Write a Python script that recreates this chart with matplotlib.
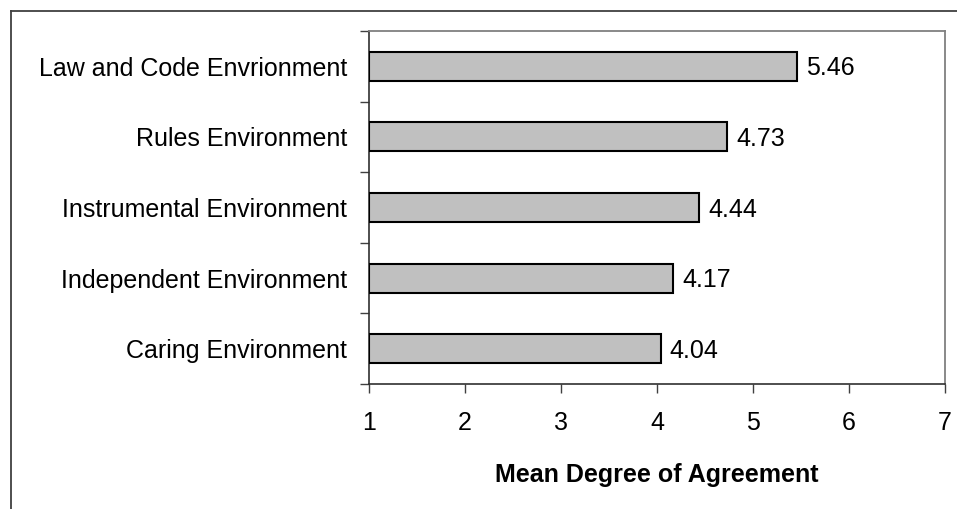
import matplotlib
matplotlib.use("Agg")
import matplotlib.pyplot as plt
from matplotlib.lines import Line2D
import numpy as np

categories = ["Law and Code Envrionment", "Rules Environment", "Instrumental Environment",
              "Independent Environment", "Caring Environment"]
values = [5.46, 4.73, 4.44, 4.17, 4.04]
xticks = [1, 2, 3, 4, 5, 6, 7]
xlabel = "Mean Degree of Agreement"

plt.rcParams['font.family'] = ['Liberation Sans', 'DejaVu Sans']

W, H = 957, 509
fig = plt.figure(figsize=(W / 100, H / 100), dpi=100)
fig.patch.set_facecolor("white")

# outer chart frame (cut off at right and bottom)
fx = 10.5 / W
fy = 1 - 10.5 / H
fig.add_artist(Line2D([fx, fx], [-0.1, fy], transform=fig.transFigure, color="#404040", lw=1.3))
fig.add_artist(Line2D([fx, 1.1], [fy, fy], transform=fig.transFigure, color="#404040", lw=1.3))

ax = fig.add_axes([369 / W, 1 - 384 / H, (945 - 369) / W, (384 - 31) / H])

n = len(categories)
ypos = np.arange(n)[::-1]
ax.barh(ypos, [v - 1 for v in values], left=1, height=0.41, color="#C0C0C0",
        edgecolor="black", linewidth=1.5, zorder=3)

for y, v in zip(ypos, values):
    ax.annotate(f"{v:.2f}", xy=(v, y), xytext=(6.5, -1.5), textcoords="offset points",
                va="center", ha="left", fontsize=18, color="black")

ax.set_xlim(1, 7)
ax.set_ylim(-0.5, n - 0.5)
ax.set_xticks(xticks)
ax.set_xticklabels([str(t) for t in xticks], fontsize=18)
ax.set_yticks(ypos)
ax.set_yticklabels(categories, fontsize=18)
ax.set_yticks(np.arange(-0.5, n, 1.0), minor=True)

ax.tick_params(axis="y", which="major", length=0, pad=16)
ax.tick_params(axis="y", which="minor", length=6.5, width=1, color="#404040", direction="out")
ax.tick_params(axis="x", which="major", length=6.5, width=1, color="#404040", direction="out", pad=13)

for s in ["left", "bottom"]:
    ax.spines[s].set_color("#303030")
    ax.spines[s].set_linewidth(1.2)
for s in ["top", "right"]:
    ax.spines[s].set_color("#808080")
    ax.spines[s].set_linewidth(1.3)

ax.set_xlabel(xlabel, fontsize=18, fontweight="bold", labelpad=20)

fig.savefig("out.png", dpi=100, facecolor="white")
